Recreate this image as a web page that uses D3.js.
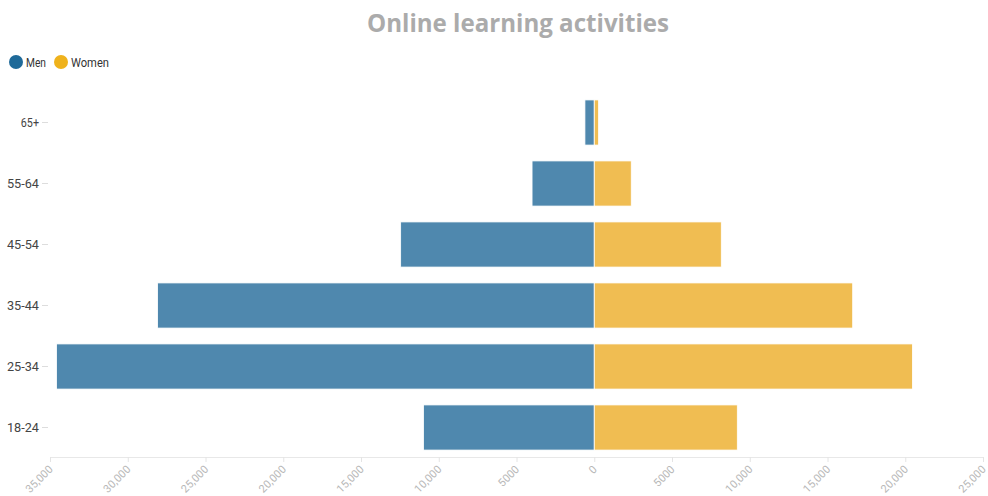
<!DOCTYPE html>
<html><head><meta charset="utf-8">
<script src="https://cdn.jsdelivr.net/npm/d3@7"></script>
<style>body{margin:0;background:#fff}svg{display:block}</style>
</head><body>
<script>
const categories = ["65+", "55-64", "45-54", "35-44", "25-34", "18-24"];
const men = [600, 4000, 12450, 28080, 34580, 10980];
const women = [280, 2380, 8170, 16620, 20460, 9200];
const tickValues = [-35000, -30000, -25000, -20000, -15000, -10000, -5000, 0, 5000, 10000, 15000, 20000, 25000];
const tickLabels = ["35,000", "30,000", "25,000", "20,000", "15,000", "10,000", "5000", "0", "5000", "10,000", "15,000", "20,000", "25,000"];
const seriesNames = ["Men", "Women"];
const colors = ["#4f88ae", "#f0bd52"];
const legendColors = ["#1f6a99", "#efb21c"];

const W = 988, H = 496;
const svg = d3.select("body").append("svg").attr("width", W).attr("height", H);

const x = d3.scaleLinear().domain([-35000, 25000]).range([50, 983]);
const y = d3.scaleBand().domain(categories).range([92, 458]).paddingInner(0.26).paddingOuter(0.13);

svg.append("text").attr("x", 518).attr("y", 32).attr("text-anchor", "middle")
  .attr("font-family", "'Open Sans', sans-serif").attr("font-weight", 700).attr("font-size", 25)
  .attr("fill", "#ababab").attr("textLength", 302).attr("lengthAdjust", "spacingAndGlyphs")
  .text("Online learning activities");

// legend
const lg = svg.append("g");
const legendX = [16, 61];
seriesNames.forEach((n, i) => {
  lg.append("circle").attr("cx", legendX[i]).attr("cy", 62).attr("r", 7).attr("fill", legendColors[i]);
  lg.append("text").attr("x", legendX[i] + 10).attr("y", 66.5).attr("font-family", "Roboto, sans-serif")
    .attr("font-size", 12).attr("fill", "#333")
    .attr("textLength", n === "Men" ? 20 : 38).attr("lengthAdjust", "spacingAndGlyphs").text(n);
});

// y axis labels
const ya = svg.append("g");
categories.forEach(c => {
  const cy = y(c) + y.bandwidth() / 2;
  ya.append("line").attr("x1", 42).attr("x2", 48).attr("y1", cy).attr("y2", cy).attr("stroke", "#ddd");
  ya.append("text").attr("x", 39).attr("y", cy + 4.5).attr("text-anchor", "end")
    .attr("font-family", "Roboto, sans-serif").attr("font-size", 13).attr("fill", "#444")
    .attr("textLength", c.length * 6.4 - (c === "65+" ? 1 : 0)).attr("lengthAdjust", "spacingAndGlyphs").text(c);
});

// bars
const bars = svg.append("g");
bars.selectAll("rect.men").data(categories).join("rect").attr("class", "men")
  .attr("x", (d, i) => x(-men[i])).attr("width", (d, i) => x(0) - x(-men[i]))
  .attr("y", d => y(d)).attr("height", y.bandwidth())
  .attr("fill", colors[0]).attr("stroke", "#fff").attr("stroke-width", 0.8);
bars.selectAll("rect.women").data(categories).join("rect").attr("class", "women")
  .attr("x", x(0)).attr("width", (d, i) => x(women[i]) - x(0))
  .attr("y", d => y(d)).attr("height", y.bandwidth())
  .attr("fill", colors[1]).attr("stroke", "#fff").attr("stroke-width", 0.8);

// x axis
const xa = svg.append("g").attr("transform", "translate(0,457)")
  .call(d3.axisBottom(x).tickValues(tickValues).tickFormat((d, i) => tickLabels[i]).tickSize(5).tickPadding(4));
xa.select(".domain").attr("stroke", "#e8e8e8");
xa.selectAll(".tick line").attr("stroke", "#e4e4e4");
xa.selectAll(".tick text").attr("fill", "#b8b8b8").attr("font-family", "Roboto, sans-serif").attr("font-size", 11)
  .attr("text-anchor", "end").attr("dy", null).attr("y", 0)
  .attr("transform", "translate(3,13) rotate(-45)");
</script>
</body></html>
